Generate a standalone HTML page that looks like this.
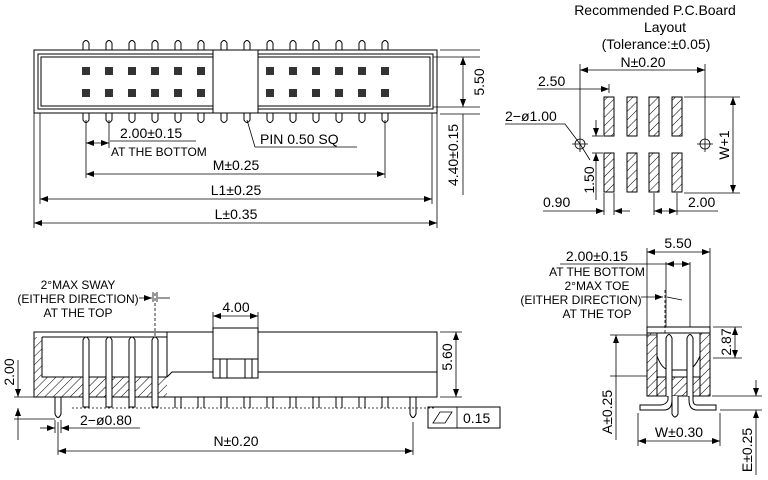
<!DOCTYPE html>
<html><head><style>
html,body{margin:0;padding:0;background:#fff;width:768px;height:480px;overflow:hidden}
svg text{font-family:"Liberation Sans",sans-serif;fill:#000}
</style></head><body>
<svg width="768" height="480" viewBox="0 0 768 480" xmlns="http://www.w3.org/2000/svg">
<defs>
<pattern id="h" patternUnits="userSpaceOnUse" width="6" height="6" patternTransform="rotate(45)">
<line x1="0" y1="0" x2="0" y2="6" stroke="#000" stroke-width="1"/></pattern>
<marker id="a" markerWidth="8" markerHeight="6" refX="8" refY="3" orient="auto-start-reverse" markerUnits="userSpaceOnUse"><path d="M0,0 L8,3 L0,6 z" fill="#000"/></marker>
</defs>
<g stroke="#000" stroke-width="1" fill="none">
<!-- TOP VIEW -->
<rect x="34" y="50" width="403" height="63"/>
<rect x="38" y="54" width="395" height="55"/>
<rect x="41" y="57" width="389" height="49"/>
<rect x="213" y="50" width="45" height="63" fill="#fff"/>
<g id="tp">
<path d="M83,50 V43 Q86,38 89,43 V50"/>
<path d="M83,113 V120 Q86,125 89,120 V113"/>
</g>
<use href="#tp" x="23"/><use href="#tp" x="46"/><use href="#tp" x="69"/><use href="#tp" x="92"/><use href="#tp" x="115"/><use href="#tp" x="138"/><use href="#tp" x="161"/><use href="#tp" x="184"/><use href="#tp" x="207"/><use href="#tp" x="230"/><use href="#tp" x="253"/><use href="#tp" x="276"/><use href="#tp" x="299"/>
</g>
<g fill="#333">
<rect x="82" y="67" width="8" height="8"/><rect x="105" y="67" width="8" height="8"/><rect x="128" y="67" width="8" height="8"/><rect x="151" y="67" width="8" height="8"/><rect x="174" y="67" width="8" height="8"/><rect x="197" y="67" width="8" height="8"/>
<rect x="266" y="67" width="8" height="8"/><rect x="289" y="67" width="8" height="8"/><rect x="312" y="67" width="8" height="8"/><rect x="335" y="67" width="8" height="8"/><rect x="358" y="67" width="8" height="8"/><rect x="381" y="67" width="8" height="8"/>
<rect x="82" y="89" width="8" height="8"/><rect x="105" y="89" width="8" height="8"/><rect x="128" y="89" width="8" height="8"/><rect x="151" y="89" width="8" height="8"/><rect x="174" y="89" width="8" height="8"/><rect x="197" y="89" width="8" height="8"/>
<rect x="266" y="89" width="8" height="8"/><rect x="289" y="89" width="8" height="8"/><rect x="312" y="89" width="8" height="8"/><rect x="335" y="89" width="8" height="8"/><rect x="358" y="89" width="8" height="8"/><rect x="381" y="89" width="8" height="8"/>
</g>
<g stroke="#000" stroke-width="0.8" fill="none">
<line x1="86" y1="120" x2="86" y2="178"/><line x1="109" y1="120" x2="109" y2="148"/>
<line x1="86" y1="143" x2="109" y2="143" marker-start="url(#a)" marker-end="url(#a)"/>
<line x1="110" y1="141" x2="196" y2="141"/>
<path d="M247,120 L255,147 H357"/>
<line x1="385" y1="120" x2="385" y2="178"/>
<line x1="86" y1="174" x2="385" y2="174" marker-start="url(#a)" marker-end="url(#a)"/>
<line x1="40" y1="113" x2="40" y2="204"/><line x1="432" y1="113" x2="432" y2="204"/>
<line x1="40" y1="199" x2="432" y2="199" marker-start="url(#a)" marker-end="url(#a)"/>
<line x1="34" y1="113" x2="34" y2="228"/><line x1="437" y1="113" x2="437" y2="228"/>
<line x1="34" y1="223" x2="437" y2="223" marker-start="url(#a)" marker-end="url(#a)"/>
<line x1="440" y1="50" x2="480" y2="50"/><line x1="433" y1="57" x2="480" y2="57"/>
<line x1="433" y1="107" x2="480" y2="107"/><line x1="440" y1="114" x2="480" y2="114"/>
<line x1="463" y1="57" x2="463" y2="107" marker-start="url(#a)" marker-end="url(#a)"/>
<line x1="463" y1="114" x2="463" y2="195"/>
</g>
<g font-size="14">
<text x="120" y="138">2.00±0.15</text>
<text x="111" y="156" font-size="12">AT THE BOTTOM</text>
<text x="260" y="144">PIN  0.50  SQ</text>
<text x="236" y="170" text-anchor="middle">M±0.25</text>
<text x="236" y="195" text-anchor="middle">L1±0.25</text>
<text x="236" y="219" text-anchor="middle">L±0.35</text>
<text transform="translate(484,82) rotate(-90)" text-anchor="middle">5.50</text>
<text transform="translate(458,155) rotate(-90)" text-anchor="middle">4.40±0.15</text>
</g>

<!-- FRONT VIEW -->
<g stroke="#000" stroke-width="1" fill="none">
<rect x="34" y="337" width="8" height="60" fill="url(#h)" stroke="none"/>
<rect x="42" y="377" width="125" height="20" fill="url(#h)" stroke="none"/>
<rect x="34" y="332" width="403" height="65"/>
<path d="M42,337 V377 H167"/>
<line x1="42" y1="337" x2="167" y2="337"/>
<line x1="167" y1="332" x2="167" y2="377"/>
<path d="M167,377 L172,372 H437"/>
<g fill="#fff">
<path d="M83,407 V340 Q86,334 89,340 V407 Z"/>
<path d="M106,407 V340 Q109,334 112,340 V407 Z"/>
<path d="M129,407 V340 Q132,334 135,340 V407 Z"/>
<path d="M152,407 V340 Q155,334 158,340 V407 Z"/>
</g>
<path d="M55,397 V414 Q58,421 61,414 V397"/>
<path d="M410,397 V414 Q413,421 416,414 V397"/>
<rect x="213" y="328" width="45" height="50" fill="#fff"/>
<line x1="213" y1="359" x2="258" y2="359"/>
<line x1="220" y1="359" x2="220" y2="378"/><line x1="227" y1="359" x2="227" y2="378"/>
<line x1="245" y1="359" x2="245" y2="378"/><line x1="252" y1="359" x2="252" y2="378"/>
</g>
<g stroke="#000" stroke-width="1" fill="none">
<path d="M175,397 V408 M181,397 V408"/><path d="M198,397 V408 M204,397 V408"/><path d="M221,397 V408 M227,397 V408"/><path d="M244,397 V408 M250,397 V408"/><path d="M267,397 V408 M273,397 V408"/><path d="M290,397 V408 M296,397 V408"/><path d="M313,397 V408 M319,397 V408"/><path d="M336,397 V408 M342,397 V408"/><path d="M359,397 V408 M365,397 V408"/><path d="M382,397 V408 M388,397 V408"/>
</g>
<g stroke="#000" stroke-width="0.8" fill="none">
<line x1="72" y1="408" x2="435" y2="408" stroke-dasharray="2,2"/>
<line x1="155" y1="293" x2="155" y2="337" stroke-dasharray="3,2"/>
<line x1="153" y1="292" x2="153" y2="302"/><line x1="157" y1="292" x2="157" y2="302"/>
<line x1="139" y1="298" x2="152" y2="298" marker-end="url(#a)"/><line x1="158" y1="298" x2="170" y2="298"/>
<line x1="213" y1="312" x2="213" y2="328"/><line x1="258" y1="312" x2="258" y2="328"/>
<line x1="213" y1="316" x2="258" y2="316" marker-start="url(#a)" marker-end="url(#a)"/>
<line x1="440" y1="332" x2="462" y2="332"/><line x1="440" y1="397" x2="462" y2="397"/>
<line x1="456" y1="332" x2="456" y2="397" marker-start="url(#a)" marker-end="url(#a)"/>
<line x1="14" y1="397" x2="34" y2="397"/><line x1="14" y1="419" x2="55" y2="419"/>
<line x1="18" y1="360" x2="18" y2="397" marker-end="url(#a)"/><line x1="18" y1="419" x2="18" y2="440"/>
<line x1="18" y1="408" x2="18" y2="419" marker-start="url(#a)"/>
<line x1="55" y1="420" x2="55" y2="433"/><line x1="61" y1="420" x2="61" y2="433"/>
<line x1="40" y1="428" x2="55" y2="428" marker-end="url(#a)"/><line x1="61" y1="428" x2="140" y2="428" marker-start="url(#a)"/>
<line x1="58" y1="422" x2="58" y2="455"/><line x1="413" y1="422" x2="413" y2="455"/>
<line x1="58" y1="451" x2="413" y2="451" marker-start="url(#a)" marker-end="url(#a)"/>
<rect x="428" y="407" width="72" height="21" stroke-width="1"/><line x1="457" y1="407" x2="457" y2="428"/>
<path d="M433,423 L440,412 H452 L445,423 Z"/>
</g>
<g font-size="13">
<text x="78" y="289" text-anchor="middle" font-size="12">2°MAX SWAY</text>
<text x="78" y="303" text-anchor="middle" font-size="12">(EITHER DIRECTION)</text>
<text x="78" y="317" text-anchor="middle" font-size="12">AT THE TOP</text>
<text x="236" y="312" text-anchor="middle" font-size="14">4.00</text>
<text transform="translate(452,357) rotate(-90)" text-anchor="middle" font-size="14">5.60</text>
<text transform="translate(14,372) rotate(-90)" text-anchor="middle" font-size="14">2.00</text>
<text x="80" y="425" font-size="14">2−ø0.80</text>
<text x="236" y="446" text-anchor="middle" font-size="14">N±0.20</text>
<text x="463" y="423" font-size="14">0.15</text>
</g>

<!-- PCB LAYOUT -->
<g font-size="14" text-anchor="middle">
<text x="655" y="15">Recommended  P.C.Board</text>
<text x="665" y="32">Layout</text>
<text x="656" y="49">(Tolerance:±0.05)</text>
<text x="643" y="67">N±0.20</text>
</g>
<g font-size="14">
<text x="538" y="86">2.50</text>
<text x="505" y="121">2−ø1.00</text>
<text x="543" y="207">0.90</text>
<text x="688" y="207">2.00</text>
<text transform="translate(729,145) rotate(-90)" text-anchor="middle">W+1</text>
<text transform="translate(594,180) rotate(-90)" text-anchor="middle">1.50</text>
</g>
<g stroke="#000" stroke-width="1" fill="url(#h)">
<rect x="604" y="97" width="10" height="39"/><rect x="627" y="97" width="10" height="39"/><rect x="649" y="97" width="10" height="39"/><rect x="672" y="97" width="10" height="39"/>
<rect x="604" y="153" width="10" height="39"/><rect x="627" y="153" width="10" height="39"/><rect x="649" y="153" width="10" height="39"/><rect x="672" y="153" width="10" height="39"/>
</g>
<g stroke="#000" stroke-width="0.8" fill="none">
<circle cx="580" cy="144" r="5"/><path d="M572,144 H588 M580,136 V152"/>
<circle cx="705" cy="144" r="5"/><path d="M697,144 H713 M705,136 V152"/>
<line x1="580" y1="64" x2="580" y2="136"/><line x1="705" y1="64" x2="705" y2="136"/>
<line x1="580" y1="70" x2="705" y2="70" marker-start="url(#a)" marker-end="url(#a)"/>
<line x1="609" y1="84" x2="609" y2="93"/>
<path d="M537,89 H580"/><line x1="580" y1="89" x2="609" y2="89" marker-end="url(#a)"/>
<path d="M505,124 H565 L580,144 L590,160"/>
<line x1="684" y1="97" x2="740" y2="97"/><line x1="684" y1="193" x2="740" y2="193"/>
<line x1="733" y1="97" x2="733" y2="193" marker-start="url(#a)" marker-end="url(#a)"/>
<line x1="592" y1="136" x2="603" y2="136"/><line x1="592" y1="153" x2="603" y2="153"/>
<line x1="596" y1="120" x2="596" y2="136" marker-end="url(#a)"/><line x1="596" y1="153" x2="596" y2="200" marker-start="url(#a)"/>
<line x1="604" y1="193" x2="604" y2="215"/><line x1="614" y1="193" x2="614" y2="215"/>
<path d="M543,211 H604" marker-end="url(#a)"/><line x1="614" y1="211" x2="630" y2="211" marker-start="url(#a)"/>
<line x1="654" y1="193" x2="654" y2="215"/><line x1="677" y1="193" x2="677" y2="215"/>
<line x1="654" y1="211" x2="677" y2="211" marker-start="url(#a)" marker-end="url(#a)"/>
<line x1="677" y1="211" x2="718" y2="211"/>
</g>

<!-- SIDE VIEW -->
<g stroke="#000" stroke-width="1">
<rect x="647" y="327" width="63" height="69" fill="#fff"/>
<line x1="647" y1="333" x2="710" y2="333"/>
<rect x="647" y="333" width="10" height="63" fill="url(#h)"/>
<rect x="700" y="333" width="10" height="63" fill="url(#h)"/>
<rect x="657" y="377" width="43" height="19" fill="url(#h)"/>
<path d="M657,356 Q662,370 670,370 H686 Q694,370 700,356" fill="none"/>
<path d="M666,396 V338 Q669,331 672,338 V396" fill="#fff"/>
<path d="M687,396 V338 Q690,331 693,338 V396" fill="#fff"/>
<path d="M668,396 V400 Q666,405 660,405 H640 V410 H664 Q672,410 672,400 V396" fill="#fff"/>
<path d="M689,396 V400 Q689,410 697,410 H716 V405 H697 Q693,405 693,400 V396" fill="#fff"/>
<path d="M672,396 V414 Q675,420 678,414 V396" fill="#fff"/>
</g>
<g stroke="#000" stroke-width="0.8" fill="none">
<line x1="647" y1="248" x2="647" y2="327"/><line x1="710" y1="248" x2="710" y2="327"/>
<line x1="647" y1="252" x2="710" y2="252" marker-start="url(#a)" marker-end="url(#a)"/>
<line x1="666" y1="262" x2="666" y2="327"/><line x1="690" y1="262" x2="690" y2="327"/>
<line x1="560" y1="264" x2="666" y2="264"/><line x1="666" y1="264" x2="690" y2="264" marker-start="url(#a)" marker-end="url(#a)"/>
<line x1="665" y1="290" x2="665" y2="335" stroke-dasharray="3,2"/>
<line x1="641" y1="297" x2="663" y2="297" marker-end="url(#a)"/><line x1="667" y1="297" x2="682" y2="300"/>
<line x1="713" y1="327" x2="742" y2="327"/><line x1="713" y1="358" x2="742" y2="358"/>
<line x1="735" y1="327" x2="735" y2="358" marker-start="url(#a)" marker-end="url(#a)"/>
<line x1="610" y1="335" x2="657" y2="335"/><line x1="610" y1="376" x2="647" y2="376"/>
<line x1="616" y1="335" x2="616" y2="440" marker-start="url(#a)"/>
<line x1="638" y1="413" x2="638" y2="446"/><line x1="720" y1="413" x2="720" y2="446"/>
<line x1="638" y1="441" x2="720" y2="441" marker-start="url(#a)" marker-end="url(#a)"/>
<line x1="712" y1="396" x2="762" y2="396"/><line x1="720" y1="410" x2="762" y2="410"/>
<line x1="756" y1="380" x2="756" y2="396" marker-end="url(#a)"/><line x1="756" y1="410" x2="756" y2="475" marker-start="url(#a)"/>
</g>
<g font-size="13" text-anchor="middle">
<text x="678" y="248" font-size="14">5.50</text>
<text x="597" y="261" font-size="14">2.00±0.15</text>
<text x="597" y="276" font-size="12">AT THE BOTTOM</text>
<text x="597" y="290" font-size="12">2°MAX TOE</text>
<text x="581" y="304" font-size="12">(EITHER DIRECTION)</text>
<text x="597" y="318" font-size="12">AT THE TOP</text>
<text transform="translate(731,342) rotate(-90)" font-size="14">2.87</text>
<text transform="translate(612,412) rotate(-90)" font-size="14">A±0.25</text>
<text x="679" y="437" font-size="14">W±0.30</text>
<text transform="translate(752,450) rotate(-90)" font-size="14">E±0.25</text>
</g>
</svg>
</body></html>
